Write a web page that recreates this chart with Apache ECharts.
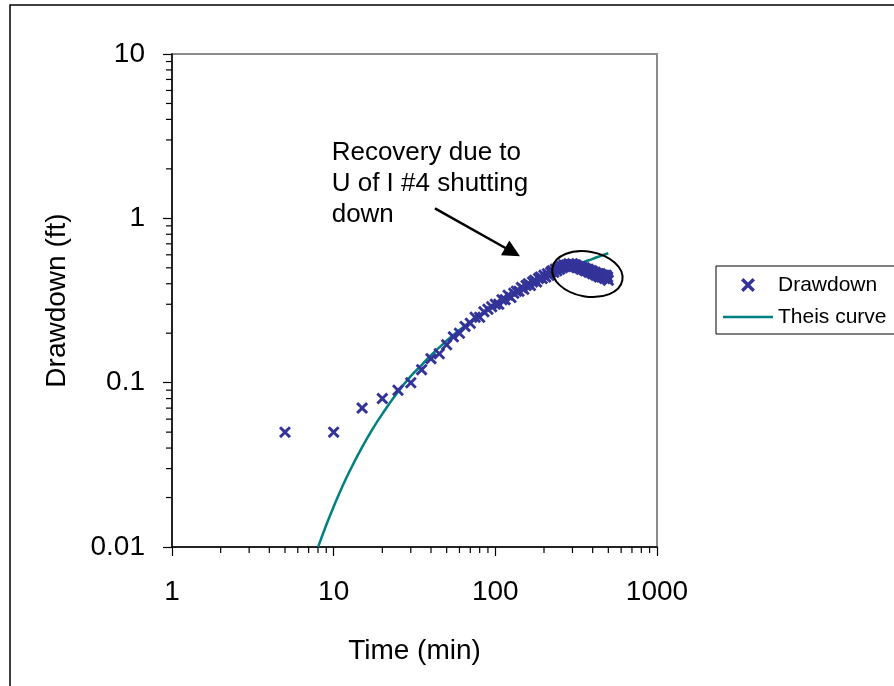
<!DOCTYPE html>
<html><head><meta charset="utf-8">
<script src="https://cdn.jsdelivr.net/npm/echarts@6/dist/echarts.min.js"></script>
<style>html,body{margin:0;padding:0;background:#fff}#c{width:894px;height:686px}</style>
</head><body><div id="c"></div>
<script>
// ---- data ----
const timeMin = [5,10,15,20,25,30,35,40,45,50,55,60,65,70,75,80,85,90,95,100,
  105,110,115,120,125,130,135,140,145,150,155,160,165,170,175,180,185,190,195,200,
  205,210,215,220,225,230,235,240,245,250,255,260,265,270,275,280,285,290,295,300,
  305,310,315,320,325,330,335,340,345,350,355,360,365,370,375,380,385,390,395,400,
  405,410,415,420,425,430,435,440,445,450,455,460,465,470,475,480,485,490,495,500];
const drawdownFt = [0.05,0.05,0.07,0.08,0.09,0.10,0.12,0.14,0.15,0.17,0.19,0.20,0.22,0.23,0.25,0.25,0.27,0.28,0.29,0.30,
  0.30,0.32,0.32,0.34,0.33,0.35,0.36,0.36,0.38,0.37,0.39,0.40,0.39,0.41,0.42,0.41,0.43,0.44,0.43,0.45,
  0.44,0.46,0.45,0.47,0.48,0.47,0.49,0.48,0.50,0.49,0.51,0.50,0.52,0.51,0.52,0.51,0.53,0.52,0.52,0.53,
  0.51,0.52,0.52,0.50,0.51,0.50,0.51,0.49,0.50,0.49,0.50,0.48,0.49,0.48,0.49,0.47,0.48,0.47,0.48,0.46,
  0.47,0.46,0.47,0.45,0.46,0.45,0.46,0.44,0.46,0.45,0.44,0.45,0.44,0.45,0.43,0.44,0.45,0.43,0.44,0.42];
const theisTime = [8,9,10,11,12.5,15,17.5,20,25,30,35,40,50,60,70,80,100,125,150,175,200,250,300,350,400,450,500];
const theisDrawdown = [0.00995,0.0136,0.0176,0.0219,0.0287,0.0405,0.0527,0.0646,0.0879,0.1096,0.128,0.147,0.180,0.209,0.2345,0.257,0.297,0.338,0.372,0.402,0.428,0.472,0.509,0.540,0.567,0.592,0.613];
const xTickValues = [1,10,100,1000];
const xTickLabels = ['1','10','100','1000'];
const yTickValues = [0.01,0.1,1,10];
const yTickLabels = ['0.01','0.1','1','10'];
const annotationText = 'Recovery due to\nU of I #4 shutting\ndown';
const seriesNames = ['Drawdown','Theis curve'];

const FONT = '"Liberation Sans", Arial, sans-serif';
const crossPath = 'path://M0,1.7L1.7,0L5,3.3L8.3,0L10,1.7L6.7,5L10,8.3L8.3,10L5,6.7L1.7,10L0,8.3L3.3,5Z';
const lineIcon = 'path://M0,0H0.02V14H0Z M0,5.75H50V8.25H0Z M49.98,0H50V14H49.98Z';
function lab(values, labels){
  return v => { const i = values.findIndex(t => Math.abs(Math.log10(t) - Math.log10(v)) < 1e-6); return i >= 0 ? labels[i] : ''; };
}

const chart = echarts.init(document.getElementById('c'), null, {renderer:'canvas'});
chart.setOption({
  animation:false,
  backgroundColor:'#fff',
  grid:{left:172, right:237, top:54, bottom:139, show:true, borderColor:'#8c8c8c', borderWidth:2, backgroundColor:'transparent'},
  legend:{
    data:[{name:seriesNames[0]},{name:seriesNames[1], icon:lineIcon}],
    orient:'vertical', left:716, top:266,
    borderColor:'#000', borderWidth:1, padding:[7,30,5,7],
    itemWidth:50, itemHeight:14, itemGap:8,
    textStyle:{fontFamily:FONT, fontSize:21, color:'#000', lineHeight:24}
  },
  xAxis:{
    type:'log', logBase:10, min:1, max:1000,
    name:'Time (min)', nameLocation:'middle', nameGap:90,
    nameTextStyle:{fontFamily:FONT, fontSize:28, color:'#000'},
    axisLine:{show:true, onZero:false, lineStyle:{color:'#000', width:1.5}},
    axisTick:{show:true, inside:false, length:9, lineStyle:{color:'#000', width:1.2}},
    minorTick:{show:false},
    splitLine:{show:false},
    axisLabel:{fontFamily:FONT, fontSize:28, color:'#000', margin:31, formatter:lab(xTickValues, xTickLabels)}
  },
  yAxis:{
    type:'log', logBase:10, min:0.01, max:10,
    name:'Drawdown (ft)', nameLocation:'middle', nameGap:101, nameRotate:90,
    nameTextStyle:{fontFamily:FONT, fontSize:28, color:'#000'},
    axisLine:{show:true, onZero:false, lineStyle:{color:'#000', width:1.5}},
    axisTick:{show:true, inside:false, length:9, lineStyle:{color:'#000', width:1.2}},
    minorTick:{show:false},
    splitLine:{show:false},
    axisLabel:{fontFamily:FONT, fontSize:28, color:'#000', margin:27, formatter:lab(yTickValues, yTickLabels)}
  },
  series:[
    {
      name:seriesNames[1], type:'line', z:2,
      data:theisTime.map((t,i)=>[t, theisDrawdown[i]]),
      smooth:true, symbol:'none', showSymbol:false, clip:true,
      lineStyle:{color:'#008080', width:2.5}, itemStyle:{color:'#008080'}
    },
    {
      name:seriesNames[0], type:'scatter', z:3,
      data:timeMin.map((t,i)=>[t, drawdownFt[i]]),
      symbol:crossPath, symbolSize:12,
      itemStyle:{color:'#333399', opacity:1},
      markLine:{
        silent:true, symbol:['none','triangle'], symbolSize:17,
        label:{show:false},
        lineStyle:{color:'#000', width:2.5, type:'solid'},
        itemStyle:{color:'#000'},
        data:[[{coord:[42.3,1.15]},{coord:[127.8,0.624]}]]
      }
    }
  ]
});

function px(t, s){ return chart.convertToPixel({gridIndex:0}, [t, s]); }
const g = [];
// outer frame
g.push({type:'rect', silent:true, z:0, shape:{x:10, y:5, width:1000, height:1000}, style:{fill:'none', stroke:'#000', lineWidth:1.5}});
// minor ticks (log positions 2..9 in each decade)
const mult = [2,3,4,5,6,7,8,9];
[1,10,100].forEach(d => mult.forEach(m => {
  const p = px(d*m, 0.01);
  g.push({type:'line', silent:true, z:5, shape:{x1:p[0], y1:p[1], x2:p[0], y2:p[1]+6}, style:{stroke:'#000', lineWidth:1.2}});
}));
[0.01,0.1,1].forEach(d => mult.forEach(m => {
  const p = px(1, d*m);
  g.push({type:'line', silent:true, z:5, shape:{x1:p[0]-6, y1:p[1], x2:p[0], y2:p[1]}, style:{stroke:'#000', lineWidth:1.2}});
}));
// ellipse around recovery
const ec = px(371, 0.458);
g.push({type:'ellipse', silent:true, z:10, x:ec[0], y:ec[1], rotation:-10*Math.PI/180,
  shape:{cx:0, cy:0, rx:35.5, ry:22.5}, style:{fill:'none', stroke:'#000', lineWidth:2}});
// annotation text
const tp = px(9.72, 3.12);
g.push({type:'text', silent:true, z:10, x:tp[0], y:tp[1],
  style:{text:annotationText, fontFamily:FONT, fontSize:26, lineHeight:31, fill:'#000', align:'left', verticalAlign:'top'}});
chart.setOption({graphic:{elements:g}});
</script></body></html>
